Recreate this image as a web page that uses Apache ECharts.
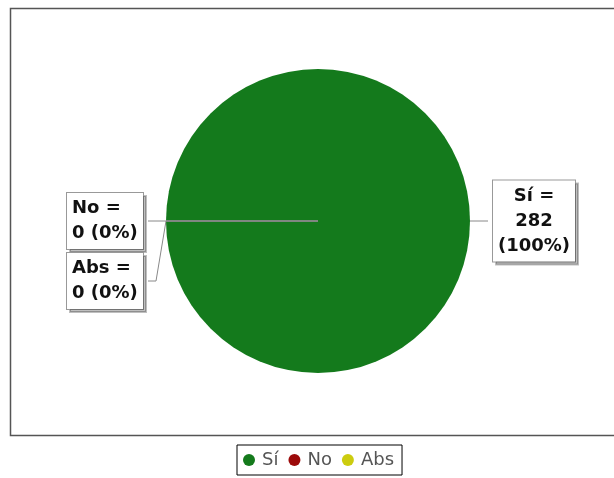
<!DOCTYPE html>
<html>
<head>
<meta charset="utf-8">
<script src="https://cdn.jsdelivr.net/npm/echarts@6/dist/echarts.min.js"></script>
<style>
  html, body { margin: 0; padding: 0; background: #fff; }
  #pie1 { width: 614px; height: 478px; }
</style>
</head>
<body>
<div id="pie1"></div>
<script>
// datos del gráfico
var categorias = ['Sí', 'No', 'Abs'];
var valores = [282, 0, 0];
var colores = ['#147a1c', '#9c0a0a', '#cccc0f'];

var myChart = echarts.init(document.getElementById('pie1'));

var fuente = { fontFamily: 'DejaVu Sans', fontWeight: 'bold', fontSize: 18, lineHeight: 25, color: '#111' };

var datos = categorias.map(function (c, i) {
    var item = { name: c, value: valores[i] };
    if (valores[i] === 0) {
        // las porciones vacías se ven como una raya gris
        item.itemStyle = { borderColor: '#888', borderWidth: 1 };
    }
    return item;
});

var option = {
    color: colores,
    animation: false,
    graphic: [
        {
            type: 'rect',
            shape: { x: 10.5, y: 8.5, width: 620, height: 427 },
            style: { fill: 'none', stroke: '#555', lineWidth: 1.5 },
            silent: true
        }
    ],
    legend: {
        left: 237,
        top: 445,
        icon: 'circle',
        itemWidth: 12,
        itemHeight: 12,
        itemGap: 10,
        padding: [6, 8, 6, 6],
        borderColor: '#000',
        borderWidth: 1,
        itemStyle: { borderWidth: 0 },
        textStyle: {
            fontFamily: 'DejaVu Sans',
            fontSize: 18,
            color: '#555',
            padding: [0, 0, 0, 2]
        },
        data: categorias
    },
    series: [
        {
            name: 'Votos',
            type: 'pie',
            center: [318, 221],
            radius: 152,
            startAngle: 180,
            clockwise: true,
            avoidLabelOverlap: true,
            stillShowZeroSum: true,
            minShowLabelAngle: 0,
            label: {
                show: true,
                position: 'outside',
                alignTo: 'labelLine',
                formatter: function (p) {
                    var pct = '(' + Math.round(p.percent) + '%)';
                    if (p.value > 0) {
                        return '{c|' + p.name + ' =}\n{c|' + p.value + '}\n{c|' + pct + '}';
                    }
                    return '{l|' + p.name + ' =}\n{l|' + p.value + ' ' + pct + '}';
                },
                fontFamily: fuente.fontFamily,
                fontWeight: fuente.fontWeight,
                fontSize: fuente.fontSize,
                lineHeight: fuente.lineHeight,
                color: fuente.color,
                backgroundColor: '#fff',
                borderColor: '#999',
                borderWidth: 1,
                padding: [3, 5, 3, 5],
                shadowColor: 'rgba(0,0,0,0.25)',
                shadowOffsetX: 3,
                shadowOffsetY: 3,
                shadowBlur: 0,
                rich: {
                    c: Object.assign({ width: 72, align: 'center' }, fuente),
                    l: Object.assign({ width: 66, align: 'left' }, fuente)
                }
            },
            labelLine: {
                show: true,
                length: 10,
                length2: 8,
                lineStyle: { color: '#888', width: 1 }
            },
            emphasis: { disabled: true },
            data: datos
        }
    ]
};

myChart.setOption(option, true);
</script>
</body>
</html>
